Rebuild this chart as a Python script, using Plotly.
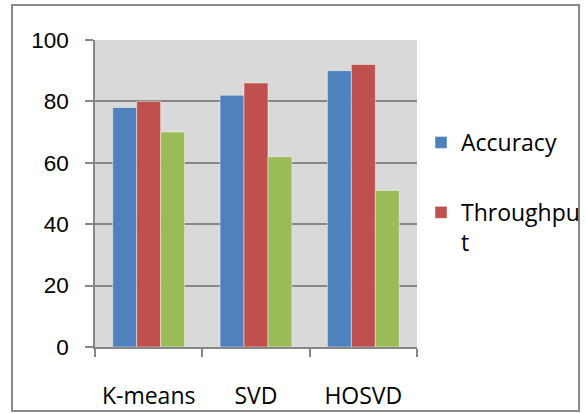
import plotly.graph_objects as go

categories = ["K-means", "SVD", "HOSVD"]
accuracy = [78, 82, 90]
throughput = [80, 86, 92]
third_series = [70, 62, 51]
series_names = ["Accuracy", "Throughpu<br>t", "Series 3"]
colors = ["#4f81bd", "#c0504d", "#9bbb59"]
y_ticks = [0, 20, 40, 60, 80, 100]

fig = go.Figure()
for name, vals, col, show in zip(series_names, [accuracy, throughput, third_series], colors, [True, True, False]):
    fig.add_trace(go.Bar(
        x=categories, y=vals, name=name, marker_color=col,
        marker_line_color="rgba(255,255,255,0.45)", marker_line_width=1,
        showlegend=show, legendgroup=name,
    ))

W, H = 586, 413
L, R, T, B = 95, W - 417, 40, H - 347
pw, ph = W - L - R, H - T - B

fig.update_layout(
    width=W, height=H,
    margin=dict(l=L, r=R, t=T, b=B, autoexpand=False),
    paper_bgcolor="white", plot_bgcolor="#d9d9d9",
    barmode="group", bargap=0.33, bargroupgap=0,
    font=dict(family="Open Sans, Lato, sans-serif", color="black"),
    legend=dict(
        xref="container", yref="container",
        x=421 / W, y=1 - 121 / H, xanchor="left", yanchor="top",
        font=dict(size=23, family="Open Sans, sans-serif"), tracegroupgap=37,
        valign="top", bgcolor="rgba(0,0,0,0)",
    ),
    xaxis=dict(
        automargin=False,
        showline=True, linecolor="#878787", linewidth=1.5,
        ticks="outside", tickson="boundaries", ticklen=8, tickcolor="#878787", tickwidth=1.5,
        tickfont=dict(size=23, family="Open Sans, sans-serif"), ticklabelstandoff=28,
        showgrid=False,
    ),
    yaxis=dict(
        automargin=False,
        range=[0, 100], tickvals=y_ticks, showline=True, linecolor="#878787", linewidth=1.5,
        ticks="outside", ticklen=8, tickcolor="#878787", tickwidth=1.5,
        tickfont=dict(size=22.5, family="Liberation Sans, Arial, sans-serif"), ticklabelstandoff=12,
        showgrid=True, gridcolor="#878787", gridwidth=1.5, zeroline=False,
    ),
    shapes=[dict(
        type="rect", xref="paper", yref="paper",
        x0=(12 - L) / pw, x1=(579 - L) / pw,
        y0=(347 - 411) / ph, y1=(347 - 5) / ph,
        line=dict(color="#8a8a8a", width=2), fillcolor="rgba(0,0,0,0)", layer="below",
    )],
)

# remove the browser's default 8px body margin so the 586x413 figure fills the window
fig.write_html("out.html", config={"displayModeBar": False},
               post_script="document.body.style.margin='0';")
